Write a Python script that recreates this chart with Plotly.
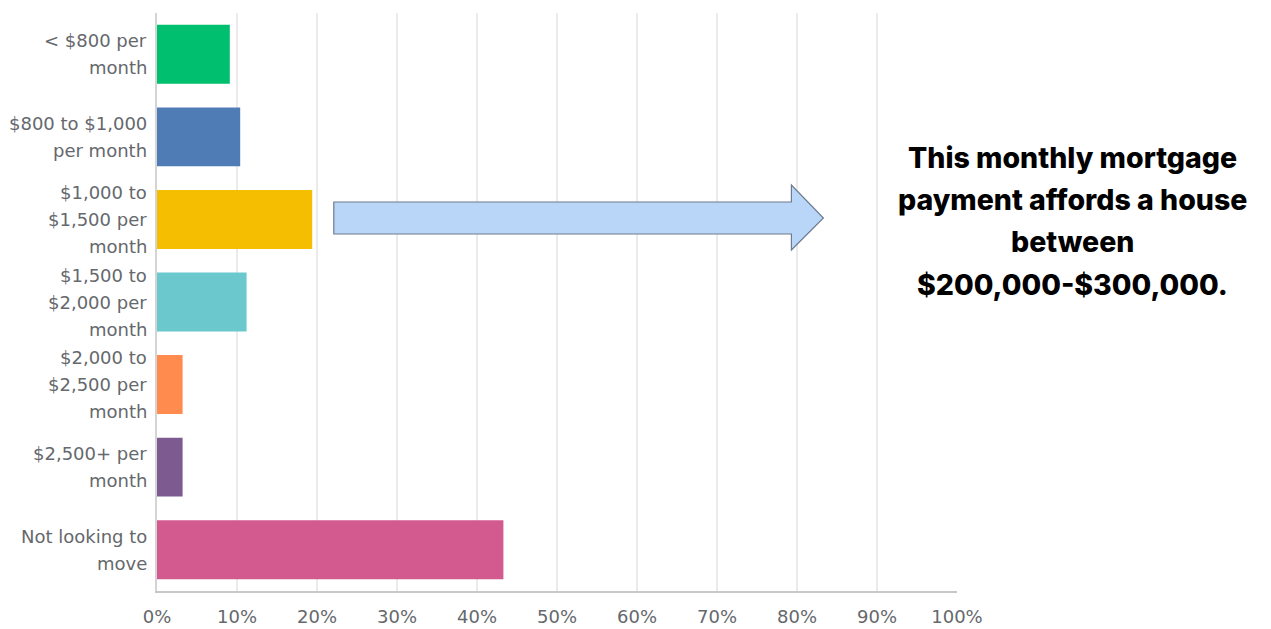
import plotly.graph_objects as go

# Survey answers: monthly mortgage payment people are looking for
categories = [
    "< $800 per<br>month",
    "$800 to $1,000<br>per month",
    "$1,000 to<br>$1,500 per<br>month",
    "$1,500 to<br>$2,000 per<br>month",
    "$2,000 to<br>$2,500 per<br>month",
    "$2,500+ per<br>month",
    "Not looking to<br>move",
]
share_pct = [9.1, 10.4, 19.4, 11.2, 3.2, 3.2, 43.3]
bar_colors = ["#00bf6f", "#507cb6", "#f5be00", "#6bc8cd", "#ff8b4f", "#7d5b91", "#d35a8f"]

x_ticks = [0, 10, 20, 30, 40, 50, 60, 70, 80, 90, 100]
x_tick_labels = [f"{v}%" for v in x_ticks]

callout_lines = [
    "This monthly mortgage",
    "payment affords a house",
    "between",
    "$200,000-$300,000.",
]

W, H = 1271, 629
M_L, M_R, M_T, M_B = 157, 314, 13, 38
PLOT_H = H - M_T - M_B


def py(pixel_y):
    """Convert a pixel row to paper y."""
    return (H - M_B - pixel_y) / PLOT_H


def px(pixel_x):
    """Convert a pixel column to paper x."""
    return (pixel_x - M_L) / (W - M_L - M_R)


label_font = dict(family="DejaVu Sans, sans-serif", size=18, color="#65686c")

fig = go.Figure(
    go.Bar(
        x=share_pct,
        y=categories,
        orientation="h",
        marker=dict(color=bar_colors, line=dict(width=0)),
        hoverinfo="skip",
    )
)

# Category labels, one annotation per line so the line spacing stays open
annotations = []
line_step = 27
for cat in categories:
    lines = cat.split("<br>")
    n = len(lines)
    for i, line in enumerate(lines):
        offset = (i - (n - 1) / 2) * line_step
        annotations.append(
            dict(
                text=line,
                xref="paper",
                yref="y",
                x=0,
                y=cat,
                xanchor="right",
                yanchor="middle",
                xshift=-8,
                yshift=-offset,
                showarrow=False,
                font=label_font,
            )
        )

# Bold callout on the right
callout_y = [157, 199, 241, 284]
for line, ly in zip(callout_lines, callout_y):
    annotations.append(
        dict(
            text=line,
            xref="paper",
            yref="paper",
            x=px(1072),
            y=py(ly),
            xanchor="center",
            yanchor="middle",
            showarrow=False,
            font=dict(family="Inter, sans-serif", size=28.5, color="#000000", weight=800),
        )
    )

# Block arrow pointing from the chart toward the callout
shaft_top, shaft_bot = py(202), py(234)
head_top, head_bot = py(185), py(250)
mid = (shaft_top + shaft_bot) / 2
x0, x_head, x_tip = 22.1, 79.3, 83.3
arrow_path = (
    f"M {x0},{shaft_top} L {x_head},{shaft_top} L {x_head},{head_top} "
    f"L {x_tip},{mid} L {x_head},{head_bot} L {x_head},{shaft_bot} "
    f"L {x0},{shaft_bot} Z"
)

fig.update_layout(
    width=W,
    height=H,
    margin=dict(l=M_L, r=M_R, t=M_T, b=M_B, autoexpand=False),
    paper_bgcolor="white",
    plot_bgcolor="white",
    showlegend=False,
    bargap=0.286,
    annotations=annotations,
    shapes=[
        dict(
            type="path",
            xref="x",
            yref="paper",
            path=arrow_path,
            fillcolor="#b9d6f9",
            line=dict(color="#6d7b8e", width=1.2),
            layer="above",
        )
    ],
    xaxis=dict(
        range=[0, 100],
        tickvals=x_ticks,
        ticktext=x_tick_labels,
        tickfont=label_font,
        showgrid=True,
        gridcolor="#ebebeb",
        gridwidth=2,
        zeroline=False,
        showline=True,
        linecolor="#c8c8c8",
        linewidth=2,
        ticks="outside",
        ticklen=8,
        tickcolor="rgba(0,0,0,0)",
        automargin=False,
        fixedrange=True,
    ),
    yaxis=dict(
        autorange="reversed",
        showticklabels=False,
        showgrid=False,
        showline=True,
        linecolor="#d4d4d4",
        linewidth=2,
        ticks="",
        automargin=False,
        fixedrange=True,
    ),
)

fig.write_html("out.html", config={"displayModeBar": False})
